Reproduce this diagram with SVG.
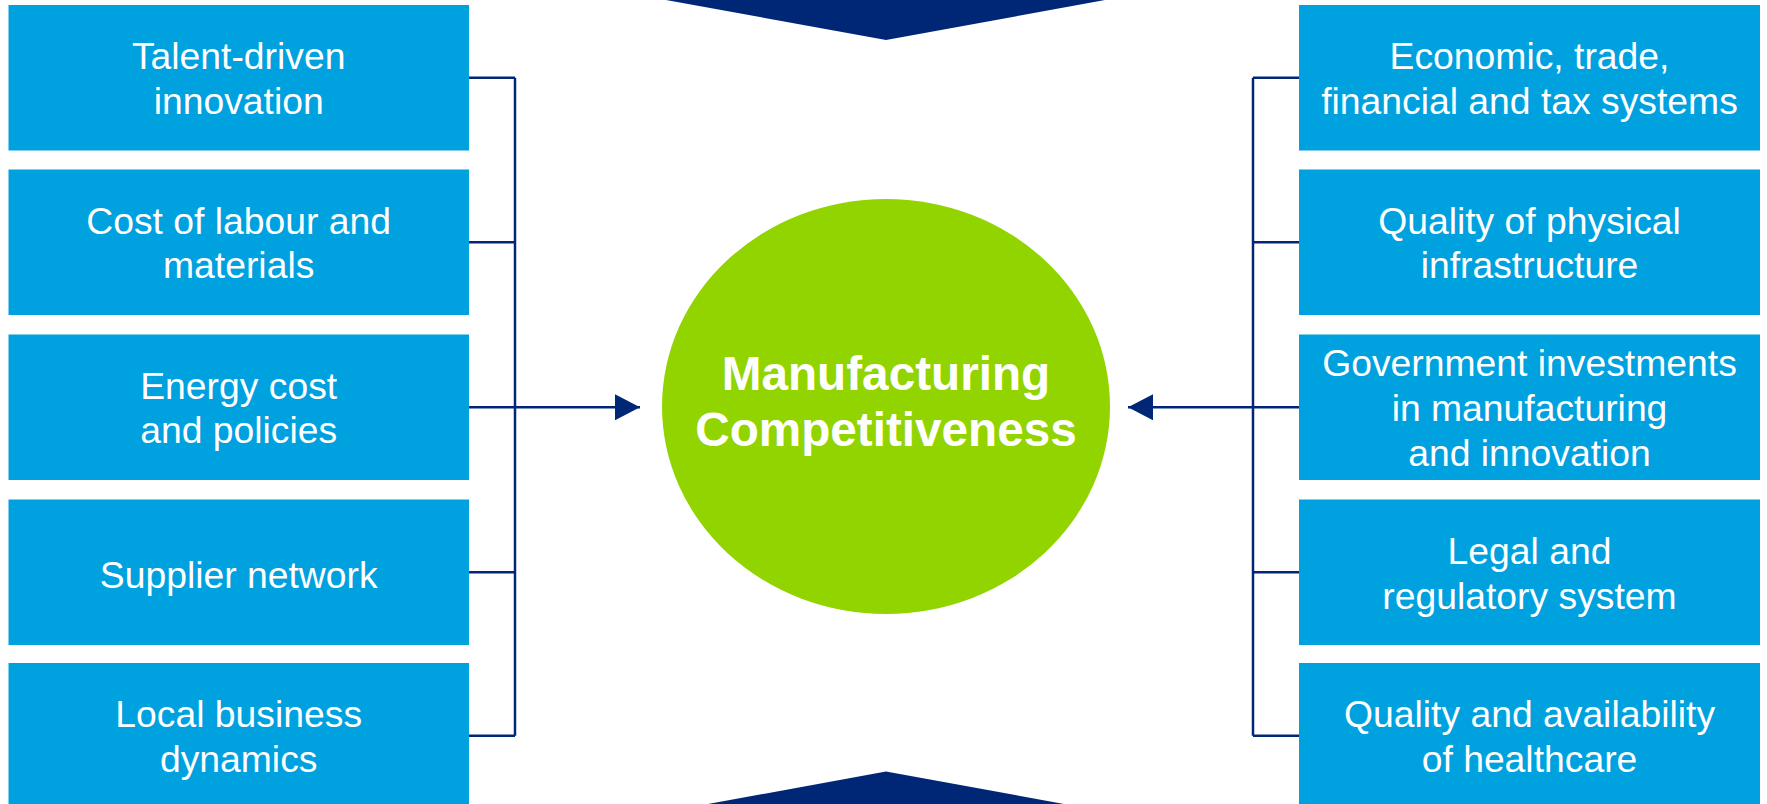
<svg xmlns="http://www.w3.org/2000/svg" width="1767" height="804" viewBox="0 0 1767 804">
  <defs>
    <style>
      .box { fill: #00A1DF; }
      .lbl { font-family: "Liberation Sans", Arial, sans-serif; font-size: 37.3px; fill: #FFFFFF; text-anchor: middle; }
      .title { font-family: "Liberation Sans", Arial, sans-serif; font-size: 47.7px; font-weight: bold; fill: #FFFFFF; text-anchor: middle; }
      .conn { stroke: #002776; stroke-width: 2.5; fill: none; }
      .chev { fill: #002776; }
    </style>
    <marker id="arrow" markerUnits="userSpaceOnUse" markerWidth="26" markerHeight="26" viewBox="0 0 25 26" refX="25" refY="13" orient="auto">
      <path d="M0,0 L25,13 L0,26 Z" fill="#002776"/>
    </marker>
  </defs>
  <rect width="1767" height="804" fill="#FFFFFF"/>

  <polygon class="chev" points="666,0 1105,0 886,40"/>
  <polygon class="chev" points="708,804 1064,804 886,771.5"/>

  <g id="connectors">
    <path class="conn" d="M469,77.75 H515 M469,242.25 H515 M469,572.25 H515 M469,735.75 H515 M515,77.75 V735.75"/>
    <path class="conn" d="M469,407.25 H640" marker-end="url(#arrow)"/>
    <path class="conn" d="M1299,77.75 H1253 M1299,242.25 H1253 M1299,572.25 H1253 M1299,735.75 H1253 M1253,77.75 V735.75"/>
    <path class="conn" d="M1299,407.25 H1128" marker-end="url(#arrow)"/>
  </g>

  <g id="center">
    <ellipse cx="886" cy="406.5" rx="224" ry="207.5" fill="#92D400"/>
    <text class="title" x="886" y="390">Manufacturing</text>
    <text class="title" x="886" y="446">Competitiveness</text>
  </g>

  <g id="talent">
    <rect class="box" x="8.5" y="5" width="460.5" height="145.5"/>
    <text class="lbl" x="238.7" y="69.25">Talent-driven</text>
    <text class="lbl" x="238.7" y="113.75">innovation</text>
  </g>
  <g id="labour">
    <rect class="box" x="8.5" y="169.5" width="460.5" height="145.5"/>
    <text class="lbl" x="238.7" y="233.75">Cost of labour and</text>
    <text class="lbl" x="238.7" y="278.25">materials</text>
  </g>
  <g id="energy">
    <rect class="box" x="8.5" y="334.5" width="460.5" height="145.5"/>
    <text class="lbl" x="238.7" y="398.75">Energy cost</text>
    <text class="lbl" x="238.7" y="443.25">and policies</text>
  </g>
  <g id="supplier">
    <rect class="box" x="8.5" y="499.5" width="460.5" height="145.5"/>
    <text class="lbl" x="238.7" y="588">Supplier network</text>
  </g>
  <g id="local">
    <rect class="box" x="8.5" y="663" width="460.5" height="145.5"/>
    <text class="lbl" x="238.7" y="727.25">Local business</text>
    <text class="lbl" x="238.7" y="771.75">dynamics</text>
  </g>

  <g id="economic">
    <rect class="box" x="1299" y="5" width="461" height="145.5"/>
    <text class="lbl" x="1529.5" y="69.25">Economic, trade,</text>
    <text class="lbl" x="1529.5" y="113.75">financial and tax systems</text>
  </g>
  <g id="infrastructure">
    <rect class="box" x="1299" y="169.5" width="461" height="145.5"/>
    <text class="lbl" x="1529.5" y="233.75">Quality of physical</text>
    <text class="lbl" x="1529.5" y="278.25">infrastructure</text>
  </g>
  <g id="government">
    <rect class="box" x="1299" y="334.5" width="461" height="145.5"/>
    <text class="lbl" x="1529.5" y="376">Government investments</text>
    <text class="lbl" x="1529.5" y="421">in manufacturing</text>
    <text class="lbl" x="1529.5" y="466">and innovation</text>
  </g>
  <g id="legal">
    <rect class="box" x="1299" y="499.5" width="461" height="145.5"/>
    <text class="lbl" x="1529.5" y="563.5">Legal and</text>
    <text class="lbl" x="1529.5" y="608.5">regulatory system</text>
  </g>
  <g id="healthcare">
    <rect class="box" x="1299" y="663" width="461" height="145.5"/>
    <text class="lbl" x="1529.5" y="727.25">Quality and availability</text>
    <text class="lbl" x="1529.5" y="771.75">of healthcare</text>
  </g>
</svg>
